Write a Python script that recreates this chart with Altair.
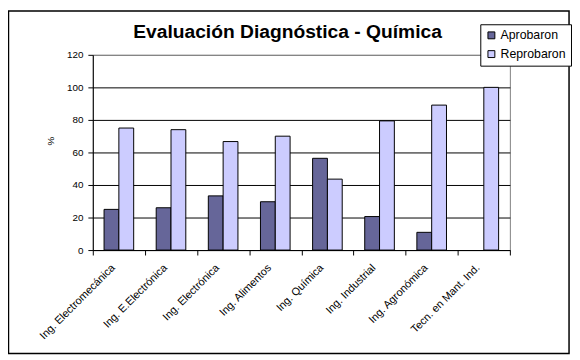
import altair as alt
import pandas as pd

categories = ["Ing. Electromecánica", "Ing. E.Electrónica", "Ing. Electrónica",
              "Ing. Alimentos", "Ing. Química", "Ing. Industrial",
              "Ing. Agronómica", "Tecn. en Mant. Ind."]
aprobaron = [25, 26, 33.3, 29.7, 56.4, 20.6, 10.9, 0]
reprobaron = [75, 74, 66.7, 70, 43.6, 79.4, 89.1, 100]
series = ["Aprobaron", "Reprobaron"]
colors = ["#666699", "#CCCCFF"]
y_ticks = [0, 20, 40, 60, 80, 100, 120]

rows = []
for c, a, r in zip(categories, aprobaron, reprobaron):
    rows.append({"cat": c, "serie": series[0], "val": a})
    rows.append({"cat": c, "serie": series[1], "val": r})
df = pd.DataFrame(rows)

FONT = "Liberation Sans"

bars = alt.Chart(df).mark_bar(stroke="black", strokeWidth=1).encode(
    x=alt.X("cat:N", sort=categories, title=None,
            scale=alt.Scale(paddingInner=0, paddingOuter=0),
            axis=alt.Axis(labelAngle=-45, labelAlign="right", labelBaseline="middle",
                          labelFontSize=11, labelFont=FONT, labelColor="black",
                          labelPadding=11, labelOffset=-6, tickSize=5, tickColor="black",
                          tickBand="extent", domainColor="black", labelLimit=200)),
    xOffset=alt.XOffset("serie:N", sort=series,
                        scale=alt.Scale(paddingOuter=0.76, paddingInner=0)),
    y=alt.Y("val:Q", title="%",
            scale=alt.Scale(domain=[0, 120], nice=False),
            axis=alt.Axis(values=y_ticks, labelFontSize=10, labelFont=FONT,
                          labelColor="black", tickSize=5, tickColor="black",
                          labelPadding=5, domainColor="black",
                          gridColor=alt.condition(alt.datum.value == 120,
                                                  alt.value("#808080"),
                                                  alt.value("black")),
                          titleFont=FONT, titleFontSize=10, titleFontWeight="normal",
                          titleX=-43, titleY=87, titleAngle=-90,
                          titleAlign="center", titleBaseline="middle",
                          titleColor="black")),
    color=alt.Color("serie:N", sort=series,
                    scale=alt.Scale(domain=series, range=colors),
                    legend=alt.Legend(title=None, orient="none", legendX=393, legendY=-31,
                                      symbolType="square", symbolSize=49,
                                      symbolStrokeColor="black", symbolStrokeWidth=1,
                                      labelFont=FONT, labelFontSize=12.5,
                                      labelColor="black", labelOffset=3,
                                      strokeColor="black", padding=5,
                                      rowPadding=6, fillColor="white")),
    strokeOpacity=alt.condition(alt.datum.val == 0, alt.value(0), alt.value(1)),
)

border = alt.Chart(alt.Data(values=[{"b": 1}])).mark_rect(
    fill=None, stroke="black", strokeWidth=1.5
).encode(
    x=alt.value(-85.5), x2=alt.value(483), y=alt.value(-44.5), y2=alt.value(303)
)

chart = alt.layer(bars, border).properties(
    width=423, height=198,
    title=alt.TitleParams("Evaluación Diagnóstica - Química", font=FONT, fontSize=19.5,
                          fontWeight="bold", color="black", anchor="middle",
                          dx=-14, offset=-48, baseline="alphabetic"),
    autosize=alt.AutoSizeParams(type="none"),
    padding={"left": 86, "top": 45, "right": 63, "bottom": 109},
    background="white",
).configure_view(stroke="#808080", strokeWidth=1)

chart.save("out.html", embed_options={"renderer": "svg", "actions": False})
